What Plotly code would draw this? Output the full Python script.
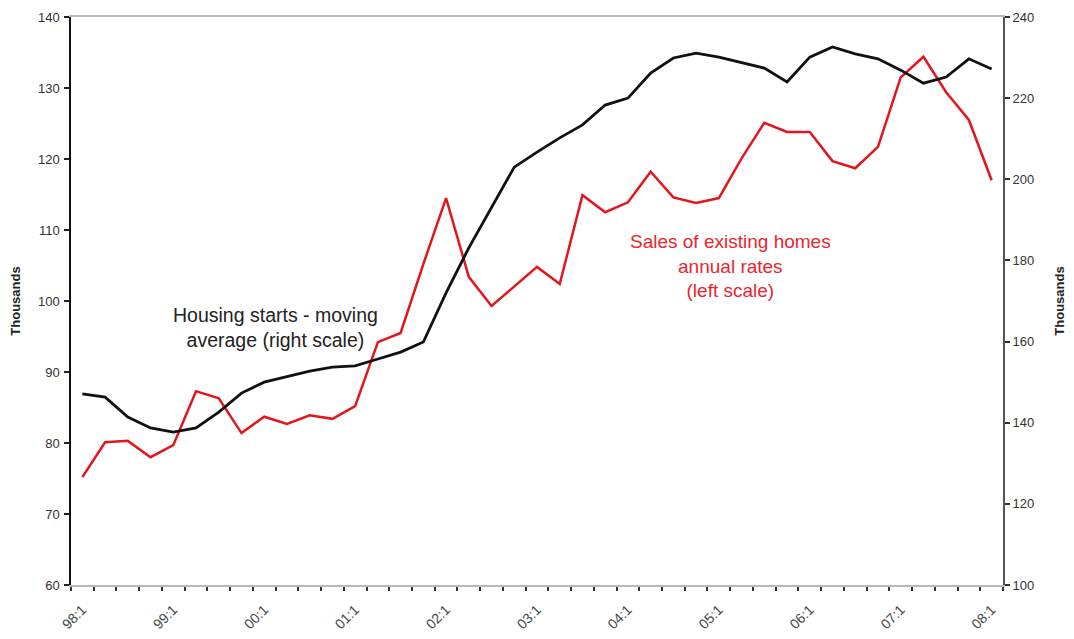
import plotly.graph_objects as go

quarters = [
    "98:1", "98:2", "98:3", "98:4", "99:1", "99:2", "99:3", "99:4",
    "00:1", "00:2", "00:3", "00:4", "01:1", "01:2", "01:3", "01:4",
    "02:1", "02:2", "02:3", "02:4", "03:1", "03:2", "03:3", "03:4",
    "04:1", "04:2", "04:3", "04:4", "05:1", "05:2", "05:3", "05:4",
    "06:1", "06:2", "06:3", "06:4", "07:1", "07:2", "07:3", "07:4",
    "08:1",
]

# Sales of existing homes, annual rates (left scale, thousands)
sales_existing = [
    75.2, 80.1, 80.3, 78.0, 79.7, 87.3, 86.3, 81.4,
    83.7, 82.7, 83.9, 83.4, 85.2, 94.2, 95.5, 105.2,
    114.5, 103.4, 99.3, 102.0, 104.8, 102.4, 114.9, 112.5,
    113.9, 118.2, 114.6, 113.8, 114.5, 120.1, 125.1, 123.8,
    123.8, 119.7, 118.7, 121.7, 131.5, 134.4, 129.4, 125.5,
    117.0,
]

# Housing starts, moving average (right scale, thousands)
housing_starts = [
    147.1, 146.3, 141.4, 138.7, 137.7, 138.7, 142.6, 147.3,
    150.0, 151.3, 152.7, 153.7, 154.0, 155.7, 157.4, 159.9,
    172.0, 183.1, 193.2, 203.0, 206.7, 210.2, 213.4, 218.3,
    220.0, 226.2, 229.9, 231.1, 230.1, 228.7, 227.4, 224.0,
    230.1, 232.6, 230.9, 229.7, 226.9, 223.7, 225.2, 229.7,
    227.2,
]

year_labels = ["98:1", "99:1", "00:1", "01:1", "02:1", "03:1",
               "04:1", "05:1", "06:1", "07:1", "08:1"]

left_ticks = [60, 70, 80, 90, 100, 110, 120, 130, 140]
right_ticks = [100, 120, 140, 160, 180, 200, 220, 240]

x = list(range(len(quarters)))
label_pos = [quarters.index(lbl) for lbl in year_labels]
boundaries = [i - 0.5 for i in range(len(quarters) + 1)]
xrange = [-0.5, len(quarters) - 0.5]

FONT = "Arial, Liberation Sans, sans-serif"

fig = go.Figure()
fig.add_trace(go.Scatter(
    x=x, y=housing_starts, yaxis="y2", mode="lines",
    line=dict(color="#111111", width=2.8), hoverinfo="skip",
))
fig.add_trace(go.Scatter(
    x=x, y=sales_existing, yaxis="y", mode="lines",
    line=dict(color="#e3151d", width=2.5), hoverinfo="skip",
))

fig.update_layout(
    width=1074, height=639,
    margin=dict(l=63, r=79, t=9, b=62),
    paper_bgcolor="white", plot_bgcolor="white",
    showlegend=False,
    font=dict(family=FONT, color="#333333"),
    xaxis=dict(
        range=xrange, tickmode="array", tickvals=label_pos, ticktext=year_labels,
        tickangle=-45, ticks="", showgrid=False, zeroline=False, automargin=False,
        showline=True, linecolor="#b8b8b8", linewidth=2, mirror=True,
        tickfont=dict(size=14, color="#444444"),
        ticklabelstandoff=9,
        minor=dict(tickmode="array", tickvals=boundaries, ticks="outside",
                   ticklen=4, tickcolor="#333333", tickwidth=1.5, showgrid=False),
    ),
    xaxis2=dict(
        range=xrange, overlaying="x", anchor="y", side="bottom", automargin=False,
        showticklabels=False, showgrid=False, zeroline=False, showline=False,
        tickmode="array", tickvals=boundaries, ticks="inside",
        ticklen=4, tickcolor="#333333", tickwidth=1.5,
    ),
    yaxis=dict(
        range=[60, 140], tickmode="array", tickvals=left_ticks, automargin=False,
        ticks="outside", ticklen=5, tickcolor="#222222", tickwidth=1.5,
        showline=True, linecolor="#111111", linewidth=1.5,
        showgrid=False, zeroline=False,
        tickfont=dict(size=13, color="#333333"),
        ticklabelstandoff=2,
        title=dict(text="<b>Thousands</b>", font=dict(size=13, color="#222222"), standoff=18),
    ),
    yaxis2=dict(
        range=[100, 240], tickmode="array", tickvals=right_ticks, automargin=False,
        overlaying="y", side="right", anchor="x",
        ticks="outside", ticklen=5, tickcolor="#333333", tickwidth=1.5,
        showline=True, linecolor="#555555", linewidth=2,
        showgrid=False, zeroline=False,
        tickfont=dict(size=13, color="#333333"),
        title=dict(text="<b>Thousands</b>", font=dict(size=13, color="#222222"), standoff=22),
    ),
    yaxis3=dict(
        range=[60, 140], tickmode="array", tickvals=left_ticks, overlaying="y",
        side="left", anchor="x", ticks="inside", ticklen=5, tickcolor="#222222", automargin=False,
        tickwidth=1.5, showticklabels=False, showline=False, showgrid=False, zeroline=False,
    ),
    yaxis4=dict(
        range=[100, 240], tickmode="array", tickvals=right_ticks, overlaying="y",
        side="right", anchor="x", ticks="inside", ticklen=5, tickcolor="#333333", automargin=False,
        tickwidth=1.5, showticklabels=False, showline=False, showgrid=False, zeroline=False,
    ),
    annotations=[
        dict(
            text="Housing starts - moving<br>average (right scale)",
            xref="paper", yref="paper", x=0.2189, y=0.454,
            showarrow=False, align="center", xanchor="center", yanchor="middle",
            font=dict(family=FONT, size=19.5, color="#222222"),
        ),
        dict(
            text="Sales of existing homes<br>annual rates<br>(left scale)",
            xref="paper", yref="paper", x=0.708, y=0.5616,
            showarrow=False, align="center", xanchor="center", yanchor="middle",
            font=dict(family=FONT, size=19, color="#e8262e"),
        ),
    ],
)

fig.write_html("out.html")
